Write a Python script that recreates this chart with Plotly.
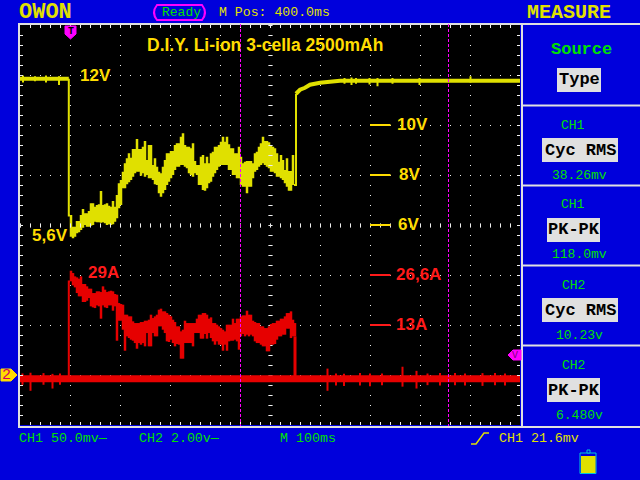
import numpy as np
import plotly.graph_objects as go

# CH1 envelope, volts, one column every 4 ms starting at 100 ms
ch1_start = 100
ch1_top = [6.40, 5.93, 5.93, 6.16, 6.16, 6.40, 6.64, 6.47, 6.47, 6.56, 6.87, 6.87, 6.73, 6.80, 6.83, 7.36, 6.80, 6.83, 6.87,
           6.77, 6.73, 6.96, 6.73, 7.20, 7.67, 7.80, 8.13, 8.47, 8.67, 8.87, 8.69, 9.04, 9.04, 9.44, 9.04, 9.04, 9.13, 9.36,
           8.60, 9.20, 9.20, 8.40, 8.67, 8.33, 8.13, 8.07, 8.33, 8.60, 8.87, 8.87, 8.96, 8.96, 9.20, 9.27, 9.27,
           9.53, 9.67, 9.20, 9.13, 9.13, 9.07, 9.27, 8.56, 8.40, 8.40, 8.73, 8.80, 8.47, 8.73, 8.47, 8.87, 8.93, 9.13, 9.13,
           9.20, 9.33, 9.53, 9.33, 9.53, 9.23, 9.07, 9.07, 8.87, 8.87, 9.13, 8.73, 8.47, 8.53, 8.56, 8.56, 8.56, 8.47, 8.87,
           8.93, 9.13, 9.27, 9.53, 9.36, 9.36, 9.31, 9.20, 9.13, 9.07, 8.87, 8.53, 8.80, 8.60, 8.20, 8.67, 8.16, 8.16, 8.80]
ch1_bot = [5.53, 5.47, 5.53, 5.67, 5.71, 5.80, 5.89, 6.00, 5.93, 5.93, 5.97, 6.00, 6.13, 6.11, 6.11, 6.09, 6.11, 6.07, 6.00,
           6.03, 6.00, 6.03, 6.13, 6.27, 6.67, 6.80, 7.47, 7.47, 7.63, 7.71, 7.80, 7.93, 8.07, 8.13, 8.13, 7.97, 8.07, 7.93,
           8.00, 7.87, 7.87, 7.80, 7.63, 7.60, 7.27, 7.13, 7.27, 7.40, 7.60, 7.73, 7.87, 8.00, 8.20, 8.33, 8.33,
           8.40, 8.40, 8.33, 8.27, 8.07, 8.00, 7.93, 8.07, 8.00, 7.60, 7.60, 7.40, 7.37, 7.47, 7.67, 7.73, 7.93, 8.07, 8.20,
           8.33, 8.40, 8.40, 8.40, 8.40, 8.20, 8.20, 8.00, 8.00, 7.87, 7.87, 7.60, 7.53, 7.53, 7.27, 7.53, 7.53, 7.87, 8.13,
           8.20, 8.33, 8.40, 8.47, 8.40, 8.33, 8.27, 8.13, 8.13, 8.07, 7.93, 7.93, 7.87, 7.80, 7.67, 7.53, 7.37, 7.37, 7.60]

# CH1 flat parts and edges
ch1_before_t = [0, 97.6]
ch1_before_v = [11.85, 11.85]
ch1_fall_t = [97.6, 97.6, 100]
ch1_fall_v = [11.85, 6.38, 6.38]
ch1_after_t = [548, 552, 552, 560, 570, 580, 600, 620, 640, 1000]
ch1_after_v = [7.60, 7.60, 11.25, 11.41, 11.49, 11.61, 11.69, 11.73, 11.77, 11.77]
ch1_spike_t = [6, 30, 52, 78, 649, 663, 672, 699, 715, 745, 799, 901]
ch1_spike_lo = [11.70, 11.75, 11.70, 11.60, 11.65, 11.60, 11.65, 11.62, 11.55, 11.65, 11.60, 11.70]
ch1_spike_hi = [11.98, 11.95, 11.98, 11.95, 11.88, 11.90, 11.88, 11.88, 11.88, 11.88, 11.88, 11.95]

# CH2 envelope, amps, same column spacing
ch2_start = 100
ch2_top = [27.74, 27.12, 26.24, 25.97, 25.62, 26.24, 24.20, 24.20, 23.58, 22.96, 22.96, 21.80, 21.80, 22.25, 22.25, 22.07,
           23.58, 22.69, 22.07, 22.25, 22.42, 22.25, 21.54, 21.36, 19.14, 18.88, 18.70, 16.04, 16.04, 15.60, 15.60, 14.27,
           13.82, 13.82, 13.82, 14.09, 14.09, 14.44, 14.44, 14.71, 16.04, 15.15, 15.60, 16.04, 17.37, 17.64, 16.93, 16.93,
           16.48, 16.04, 15.60, 14.71, 14.09, 12.94, 12.94,
           11.61, 12.05, 14.44, 13.82, 13.82, 13.82, 13.82, 13.82, 14.98, 16.04, 16.04, 16.48, 16.48, 16.04, 14.98, 15.33,
           13.82, 13.82, 13.38, 12.94, 12.49, 12.05, 11.61, 13.38, 13.38, 13.38, 14.98, 13.82, 14.98, 14.98, 15.60, 15.86,
           15.86, 17.10, 16.04, 16.04, 14.44, 14.09, 13.82, 13.82, 12.94, 12.94, 12.49, 12.49, 12.94, 13.56, 13.82, 13.82,
           14.44, 14.44, 14.98, 14.98, 15.60, 16.48, 16.48, 16.93, 14.71, 13.82]
ch2_bot = [24.91, 23.84, 23.31, 21.80, 20.92, 20.92, 19.41, 19.41, 19.76, 20.47, 18.26, 17.99, 17.81, 18.52, 18.26, 14.98,
           18.52, 17.99, 17.81, 18.52, 18.52, 17.10, 18.26, 9.12, 14.44, 14.44, 12.05, 6.46, 10.28, 9.83, 9.39, 9.12,
           8.50, 6.99, 8.50, 8.06, 8.50, 7.62, 11.16, 7.62, 7.62, 11.16, 10.28, 10.28, 12.94, 12.94, 12.05, 11.16,
           8.95, 8.77, 9.39, 8.50, 7.62, 8.24, 8.06,
           4.34, 4.34, 8.50, 8.50, 8.50, 8.50, 7.62, 11.16, 11.16, 11.16, 9.66, 9.66, 10.90, 9.66, 11.16, 9.83,
           8.95, 8.06, 8.95, 8.06, 8.06, 6.46, 8.06, 6.46, 8.95, 9.12, 9.12, 9.39, 8.95, 6.73, 10.28, 10.90,
           10.28, 10.72, 10.28, 10.72, 10.28, 8.95, 8.50, 8.50, 8.06, 7.62, 7.62, 6.29, 6.29, 8.06, 8.06,
           8.24, 9.39, 10.28, 10.28, 10.72, 10.72, 12.32, 12.32, 9.83, 10.28, 10.28]

ch2_base_t = [0, 1000]
ch2_base_a = [-1.0, -1.0]
ch2_rise_t = [97.6, 97.6, 100]
ch2_rise_a = [-1.0, 24.9, 24.9]
ch2_fall_t = [550, 550]
ch2_fall_a = [10.28, -1.0]
ch2_spike_t = [5, 21, 47, 65, 80, 615, 632, 648, 680, 700, 724, 765, 793, 815, 840, 870, 890, 925, 950, 970]
ch2_spike_lo = [-2.6, -4.2, -2.6, -3.6, -2.6, -4.2, -2.8, -2.9, -2.8, -3.0, -2.7, -3.1, -3.6, -2.7, -2.8, -2.7, -2.8, -2.9, -2.7, -2.8]
ch2_spike_hi = [0.4, 0.6, 0.5, 0.3, 0.4, 1.7, 0.4, 0.3, 0.5, 0.4, 0.4, 2.2, 1.1, 0.4, 0.5, 0.5, 0.4, 0.5, 0.5, 0.4]

cursor_t = [441, 857]
volt_marks = [10, 8, 6]
amp_marks = [26.6, 13.3]

BLUE = "#0000dc"
WHITE = "#f0f0f0"
YELLOW = "#e0e000"
GOLD = "#ffdc00"
RED = "#e60000"
LABEL_RED = "#ff1a1a"
GREEN = "#00e000"
MAGENTA = "#ff00ff"
MONO = "Liberation Mono"
SANS = "Liberation Sans"

# plot area in window pixels, used to place the instrument panels around it
# plotly rounds the margins, so these have to stay whole numbers
LEFT, TOP, W, H = 20, 25, 500, 400


def px(x):
    return (x - LEFT) / W


def py(y):
    return 1 - (y - TOP) / H


def band(start, top, bot, color, yaxis="y"):
    # envelope drawn as floating columns, a bit wider than the 4 ms step so neighbours touch
    top = np.array(top)
    bot = np.array(bot)
    t = start + 4 * np.arange(len(top)) + 2
    return go.Bar(x=t, y=top - bot, base=bot, width=5, yaxis=yaxis, hoverinfo="skip",
                  marker=dict(color=color, line=dict(width=0)))


def spikes(t, lo, hi):
    xs, ys = [], []
    for a, b, c in zip(t, lo, hi):
        xs += [a, a, None]
        ys += [b, c, None]
    return xs, ys


def line_trace(x, y, color, width, yaxis="y"):
    return go.Scatter(x=x, y=y, mode="lines", line=dict(color=color, width=width), yaxis=yaxis, hoverinfo="skip")


fig = go.Figure()

# centre cross of the graticule, half a pixel off so the ticks stay sharp
cross_t = np.arange(0, 1001, 20) + 1
cross_v = np.arange(-2, 14.01, 0.4) - 0.02
fig.add_trace(go.Scatter(x=cross_t, y=[5.98] * len(cross_t), mode="markers", hoverinfo="skip",
                         marker=dict(symbol="line-ns", size=3, line=dict(color=WHITE, width=1))))
fig.add_trace(go.Scatter(x=[501] * len(cross_v), y=cross_v, mode="markers", hoverinfo="skip",
                         marker=dict(symbol="line-ew", size=3, line=dict(color=WHITE, width=1))))

# CH1
fig.add_trace(band(ch1_start, ch1_top, ch1_bot, YELLOW))
fig.add_trace(line_trace(ch1_before_t, ch1_before_v, YELLOW, 4))
fig.add_trace(line_trace(ch1_fall_t, ch1_fall_v, YELLOW, 2))
fig.add_trace(line_trace(ch1_after_t[:3], ch1_after_v[:3], YELLOW, 2))
fig.add_trace(line_trace(ch1_after_t[2:], ch1_after_v[2:], YELLOW, 4))
x, y = spikes(ch1_spike_t, ch1_spike_lo, ch1_spike_hi)
fig.add_trace(line_trace(x, y, YELLOW, 2))

# CH2
fig.add_trace(band(ch2_start, ch2_top, ch2_bot, RED, "y2"))
fig.add_trace(line_trace(ch2_base_t, ch2_base_a, RED, 7, "y2"))
fig.add_trace(line_trace(ch2_rise_t, ch2_rise_a, RED, 2, "y2"))
fig.add_trace(line_trace(ch2_fall_t, ch2_fall_a, RED, 3, "y2"))
x, y = spikes(ch2_spike_t, ch2_spike_lo, ch2_spike_hi)
fig.add_trace(line_trace(x, y, RED, 2, "y2"))

shapes = []
notes = []


def rect(x0, y0, x1, y1, fill=None, line=None, width=1):
    shapes.append(dict(type="rect", xref="paper", yref="paper", x0=px(x0), x1=px(x1), y0=py(y0), y1=py(y1),
                       fillcolor=fill or "rgba(0,0,0,0)", line=dict(color=line or "rgba(0,0,0,0)", width=width if line else 0)))


def seg(x0, y0, x1, y1, color="#e0e0e0", width=2):
    shapes.append(dict(type="line", xref="paper", yref="paper", x0=px(x0), x1=px(x1), y0=py(y0), y1=py(y1),
                       line=dict(color=color, width=width)))


def poly(points, fill, line=None):
    d = "M " + " L ".join(f"{px(a):.5f},{py(b):.5f}" for a, b in points) + " Z"
    shapes.append(dict(type="path", xref="paper", yref="paper", path=d, fillcolor=fill,
                       line=dict(color=line or fill, width=1)))


def note(x, y, text, color, size, family=MONO, bold=False, anchor="left"):
    label = f"<b>{text}</b>" if bold else text
    notes.append(dict(xref="paper", yref="paper", x=px(x), y=py(y), text=label, showarrow=False, xanchor=anchor,
                      yanchor="middle", borderpad=0, font=dict(color=color, size=size, family=family)))


# frame and panel separators
seg(19, 24, 640, 24)
seg(19, 427, 640, 427)
seg(19, 23, 19, 428)
seg(522, 24, 522, 427)
for y0 in [105.5, 185.5, 265.5, 345.5]:
    seg(522, y0, 640, y0)

# cursors and level marks
for t in cursor_t:
    shapes.append(dict(type="line", xref="x", yref="paper", x0=t, x1=t, y0=py(24), y1=py(426),
                       line=dict(color=MAGENTA, width=1, dash="3px,2px")))
for v in volt_marks:
    shapes.append(dict(type="line", xref="x", yref="y", x0=700, x1=741, y0=v, y1=v, line=dict(color=GOLD, width=2)))
for a in amp_marks:
    shapes.append(dict(type="line", xref="x", yref="y2", x0=700, x1=741, y0=a, y1=a, line=dict(color=LABEL_RED, width=2)))

# header
note(18, 13, "OWON", YELLOW, 22, bold=True)
shapes.append(dict(type="path", xref="paper", yref="paper", line=dict(color=MAGENTA, width=2),
                   path=" ".join([f"M {px(157):.5f},{py(5):.5f}", f"L {px(202):.5f},{py(5):.5f}",
                                  f"Q {px(208):.5f},{py(12.5):.5f} {px(202):.5f},{py(20):.5f}",
                                  f"L {px(157):.5f},{py(20):.5f}",
                                  f"Q {px(151):.5f},{py(12.5):.5f} {px(157):.5f},{py(5):.5f}", "Z"])))
note(161, 13, "Ready", GREEN, 13)
note(218, 13, "M Pos: 400.0ms", YELLOW, 13.2)
note(526, 13, "MEASURE", YELLOW, 20, bold=True)

# trigger and channel markers
poly([(65, 26), (76, 26), (76, 34), (70.5, 39), (65, 34)], MAGENTA)
note(70.5, 31, "T", "#000000", 10, bold=True, anchor="center")
poly([(1, 369), (11, 369), (17, 375), (11, 381), (1, 381)], GOLD)
note(6.5, 375, "2", "#d00060", 15, anchor="center")
poly([(521, 350), (513, 350), (508, 355), (513, 360), (521, 360)], MAGENTA)
note(515, 355, "V", "#800080", 10, anchor="center")

# labels on the traces
note(146, 45, "D.I.Y. Li-ion 3-cella 2500mAh", GOLD, 17.5, SANS, True)
note(79, 76, "12V", GOLD, 17, SANS, True)
note(31, 235, "5,6V", GOLD, 17, SANS, True)
note(87, 272, "29A", LABEL_RED, 17, SANS, True)
note(396, 124, "10V", GOLD, 17, SANS, True)
note(398, 174, "8V", GOLD, 17, SANS, True)
note(397, 224, "6V", GOLD, 17, SANS, True)
note(395, 274, "26,6A", LABEL_RED, 17, SANS, True)
note(395, 324, "13A", LABEL_RED, 17, SANS, True)

# measure panel
note(581, 49, "Source", GREEN, 17, bold=True, anchor="center")
rect(557, 68, 601, 92, fill="#e0e0e0")
note(579, 80, "Type", "#000000", 17, anchor="center", bold=True)
for head, y0, box, x0, x1, val in [("CH1", 125, "Cyc RMS", 542, 618, "38.26mv"), ("CH1", 205, "PK-PK", 547, 600, "118.0mv"),
                                   ("CH2", 285, "Cyc RMS", 542, 618, "10.23v"), ("CH2", 365, "PK-PK", 547, 600, "6.480v")]:
    note(573, y0, head, GREEN, 13, anchor="center")
    rect(x0, y0 + 13, x1, y0 + 37, fill="#e0e0e0")
    note((x0 + x1) / 2, y0 + 25, box, "#000000", 17, anchor="center", bold=True)
    note(579, y0 + 50, val, GREEN, 13, anchor="center")

# bottom status line
note(18, 438, "CH1 50.0mv—", GREEN, 13.3)
note(138, 438, "CH2 2.00v—", GREEN, 13.3)
note(279, 438, "M 100ms", GREEN, 13.3)
note(498, 438, "CH1 21.6mv", YELLOW, 13.3)
shapes.append(dict(type="path", xref="paper", yref="paper", line=dict(color=YELLOW, width=1.5),
                   path=f"M {px(471):.5f},{py(444):.5f} L {px(476):.5f},{py(444):.5f} L {px(484):.5f},{py(433):.5f} L {px(489):.5f},{py(433):.5f}"))
rect(580, 453, 596, 473.5, fill=BLUE, line="#00c8d8", width=1)
rect(587, 450, 590, 453, fill=BLUE, line="#00c8d8", width=1)
rect(581, 456, 595.5, 473, fill=YELLOW)

fig.update_layout(
    width=640, height=480, autosize=False, showlegend=False, barmode="overlay",
    margin=dict(l=LEFT, r=640 - LEFT - W, t=TOP, b=480 - TOP - H, pad=0),
    paper_bgcolor=BLUE, plot_bgcolor="#000000",
    shapes=shapes, annotations=notes,
    xaxis=dict(range=[0, 1000], showline=False, zeroline=False, showticklabels=False,
               dtick=100, tick0=0, showgrid=True, gridcolor=WHITE, griddash="1px,9px", gridwidth=1,
               ticks="inside", ticklen=3, tickcolor=WHITE, mirror="allticks",
               minor=dict(dtick=20, tick0=0, ticks="inside", ticklen=3, tickcolor=WHITE, showgrid=False)),
    yaxis=dict(range=[-2, 14], showline=False, zeroline=False, showticklabels=False,
               dtick=2, tick0=0, showgrid=True, gridcolor=WHITE, griddash="1px,9px", gridwidth=1,
               ticks="inside", ticklen=3, tickcolor=WHITE, mirror="allticks",
               minor=dict(dtick=0.4, tick0=0, ticks="inside", ticklen=3, tickcolor=WHITE, showgrid=False)),
    yaxis2=dict(range=[-13.3, 93.1], overlaying="y", visible=False, side="right"),
)

fig.write_html("out.html", config=dict(displayModeBar=False), post_script="document.body.style.margin='0';")
